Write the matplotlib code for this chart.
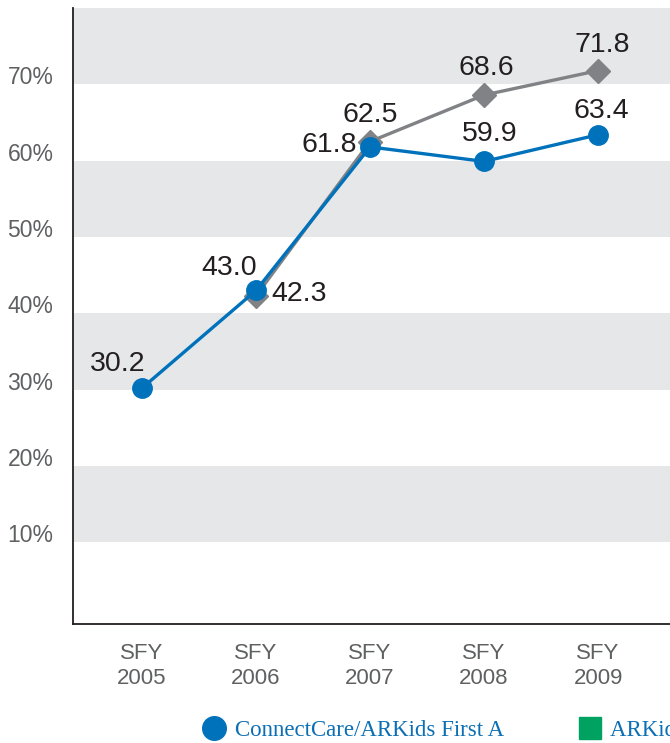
import matplotlib
matplotlib.use("Agg")
import matplotlib.pyplot as plt
from matplotlib.lines import Line2D

# ---- data ----
years = ["SFY\n2005", "SFY\n2006", "SFY\n2007", "SFY\n2008", "SFY\n2009"]
blue_vals = [30.2, 43.0, 61.8, 59.9, 63.4]
gray_years_idx = [1, 2, 3, 4]
gray_vals = [42.3, 62.5, 68.6, 71.8]
ytick_vals = [10, 20, 30, 40, 50, 60, 70]
ytick_labels = ["10%", "20%", "30%", "40%", "50%", "60%", "70%"]
band_ranges = [(10, 20), (30, 40), (50, 60), (70, 80)]
legend_labels = ["ConnectCare/ARKids First A", "ARKids First B"]

BLUE = "#0072bc"
GRAY = "#808285"
GREEN = "#00a261"
BAND = "#e6e7e8"
TXT = "#231f20"
TICK = "#5f6062"

plt.rcParams["font.family"] = ["Liberation Sans", "DejaVu Sans"]

fig = plt.figure(figsize=(6.70, 7.43), dpi=100)
ax = fig.add_axes([73 / 670, 1 - 624 / 743, 1 - 73 / 670, (624 - 8) / 743])

for lo, hi in band_ranges:
    ax.axhspan(lo, hi, color=BAND, lw=0, zorder=0)

x_blue = list(range(len(blue_vals)))
ax.plot(gray_years_idx, gray_vals, color=GRAY, lw=2.4, marker="D", ms=12,
        mec=GRAY, mfc=GRAY, zorder=3)
ax.plot(x_blue, blue_vals, color=BLUE, lw=2.4, marker="o", ms=14,
        mec=BLUE, mfc=BLUE, zorder=4)

ax.set_xlim(-0.605, 4.63)
ax.set_ylim(-0.7, 80)

# data labels
lab_kw = dict(fontsize=20.5, color=TXT, zorder=5)
blue_offsets = [(3, 11, "right", "bottom"), (1, 9, "right", "bottom"),
                (-13, 2, "right", "center"), (6, 14, "center", "bottom"),
                (3, 11, "center", "bottom")]
for xi, v, (dx, dy, ha, va) in zip(x_blue, blue_vals, blue_offsets):
    ax.annotate(f"{v:.1f}", (xi, v), xytext=(dx * 0.72, dy * 0.72),
                textcoords="offset points", ha=ha, va=va, **lab_kw)
gray_offsets = [(15, 2, "left", "center"), (0, 14, "center", "bottom"),
                (2, 14, "center", "bottom"), (4, 13, "center", "bottom")]
for xi, v, (dx, dy, ha, va) in zip(gray_years_idx, gray_vals, gray_offsets):
    ax.annotate(f"{v:.1f}", (xi, v), xytext=(dx * 0.72, dy * 0.72),
                textcoords="offset points", ha=ha, va=va, **lab_kw)

ax.set_xticks(x_blue)
ax.set_xticklabels(years, fontsize=16, color=TICK, linespacing=1.2)
ax.set_yticks(ytick_vals)
ax.set_yticklabels(ytick_labels, fontsize=16.5, color=TICK)
for lbl in ax.get_yticklabels():
    lbl.set_va("baseline")
ax.tick_params(axis="both", length=0)
ax.tick_params(axis="x", pad=14)
ax.tick_params(axis="y", pad=14)

for s in ["top", "right"]:
    ax.spines[s].set_visible(False)
ax.spines["left"].set_color("#231f20")
ax.spines["bottom"].set_color("#231f20")
ax.spines["left"].set_linewidth(1.3)
ax.spines["bottom"].set_linewidth(1.3)

handles = [
    Line2D([], [], ls="none", marker="o", ms=17, mfc=BLUE, mec=BLUE),
    Line2D([], [], ls="none", marker="s", ms=16, mfc=GREEN, mec=GREEN),
]
fig.legend(handles, legend_labels, loc="center left",
           bbox_to_anchor=(202.5 / 670, 1 - 730 / 743), ncol=2,
           frameon=False, borderpad=0, borderaxespad=0,
           handlelength=1.0, handletextpad=0.4, columnspacing=3.25,
           labelcolor="#0b6fb5",
           prop={"family": ["Liberation Serif", "DejaVu Serif"], "size": 16.5})

fig.savefig("out.png", dpi=100)
